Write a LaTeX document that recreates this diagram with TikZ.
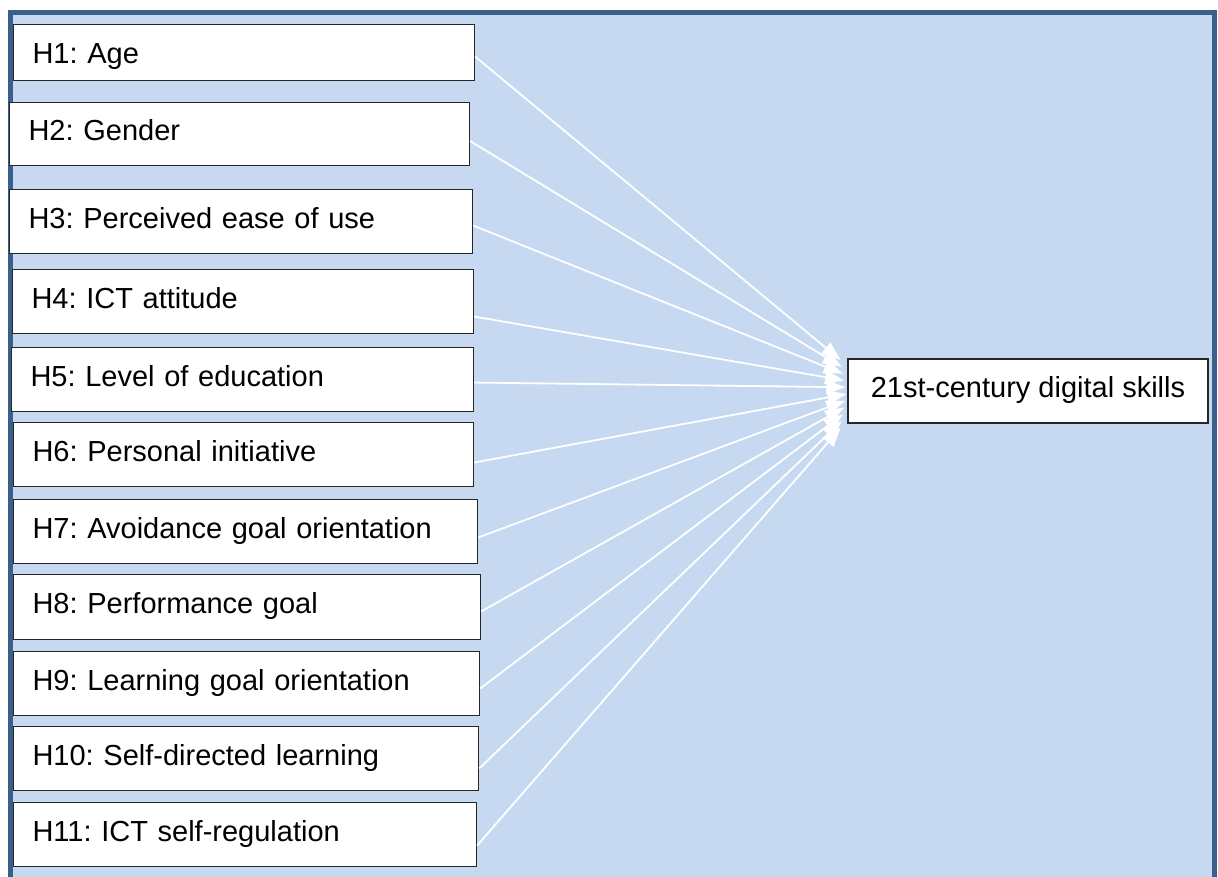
\documentclass[tikz,border=0pt]{standalone}
\usepackage{fontspec}
\setmainfont{Liberation Sans}
\usetikzlibrary{arrows.meta,calc}
\definecolor{framecol}{HTML}{3A5F8B}
\definecolor{panelcol}{HTML}{C6D9F1}
\frenchspacing
\begin{document}
\begin{tikzpicture}[x=1pt,y=-1pt,
  hyp/.style={draw=black!85, line width=1.1pt, fill=white, rectangle,
    inner ysep=0pt, font=\fontsize{29}{34}\selectfont,
    text height=21pt, text depth=8pt},
  link/.style={draw=white, line width=1.8pt,
    -{Triangle[length=19pt,width=14pt,fill=white]}}]
\useasboundingbox (0,0) rectangle (1218,876);
\clip (0,0) rectangle (1218,876);
% panel with its dark blue frame
\draw[line width=5pt, draw=framecol, fill=panelcol] (10.5,12.5) rectangle (1214.5,895);
% hypothesis boxes: name / left / top / right / bottom / text height / label
\foreach \i/\l/\t/\r/\b/\th/\txt in {
  1/13/24/474/80/30/{H1: Age},
  2/9/102/469/165/21/{H2: Gender},
  3/9/189/472/253/21/{H3: Perceived ease of use},
  4/12/269/473/333/21/{H4: ICT attitude},
  5/11/347/473/411/21/{H5: Level of education},
  6/13/422/473/486/21/{H6: Personal initiative},
  7/13/499/477/563/21/{H7: Avoidance goal orientation},
  8/13/574/480/639/21/{H8: Performance goal},
  9/13/651/479/715/21/{H9: Learning goal orientation},
  10/13/726/478/790/21/{H10: Self-directed learning},
  11/13/802/476/866/21/{H11: ICT self-regulation}}{
  \pgfmathsetmacro\w{\r-\l}
  \pgfmathsetmacro\tw{\r-\l-38}
  \pgfmathsetmacro\h{\b-\t}
  \node[hyp, anchor=north west, inner xsep=19pt, text width=\tw pt, align=left,
        text height=\th pt, minimum width=\w pt, minimum height=\h pt]
    (h\i) at (\l,\t) {\txt};
}
% outcome box
\node[hyp, inner xsep=0pt, minimum width=360pt, minimum height=64pt]
  (target) at (1028,391) {21st-century digital skills};
% connectors: source / downward offset of the start point
\foreach \i/\s in {1/4,2/7,3/4,4/15,5/3,6/8,7/6,8/4.5,9/5,10/10,11/11}{
  \pgfmathsetmacro\e{31-68*(\i-1)/10}
  \pgfmathsetmacro\x{-1-6*abs(\i-6)/5}
  \draw[link] ([yshift=-\s pt]h\i.east) -- ([xshift=\x pt,yshift=\e pt]target.west);
}
\end{tikzpicture}
\end{document}
